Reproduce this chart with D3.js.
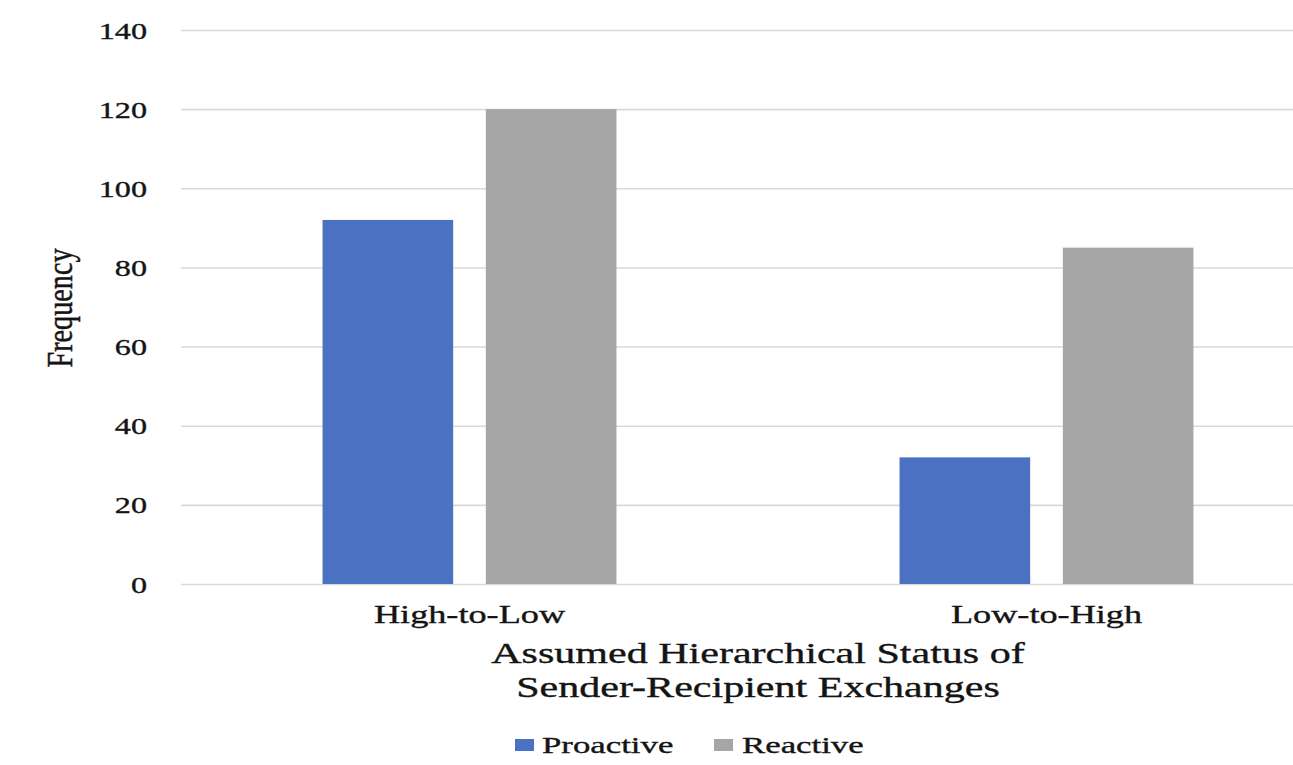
<!DOCTYPE html>
<html>
<head>
<meta charset="utf-8">
<script src="https://cdn.jsdelivr.net/npm/d3@7"></script>
<style>
  html, body { margin: 0; padding: 0; background: #ffffff; }
  svg { display: block; }
  text { font-family: "Liberation Serif", "Times New Roman", serif; fill: #141414; stroke: #141414; stroke-width: 0.35px; }
</style>
</head>
<body>
<svg id="chart" width="1293" height="765"></svg>
<script>
// ---- data ----
const categories = ["High-to-Low", "Low-to-High"];
const seriesNames = ["Proactive", "Reactive"];
const proactive = [92, 32];
const reactive = [120, 85];
const yTicks = [0, 20, 40, 60, 80, 100, 120, 140];
const yLabel = "Frequency";
const xTitleLines = ["Assumed Hierarchical Status of", "Sender-Recipient Exchanges"];

// ---- layout / style ----
const W = 1293, H = 765;
const SX = 1.45;               // horizontal stretch of the original picture
const colors = { Proactive: "#4A71C2", Reactive: "#A6A6A6" };
const plot = { left: 181, right: 1335, top: 30, bottom: 584 };

const svg = d3.select("#chart");

const x0 = d3.scaleBand().domain(categories).range([plot.left, plot.right]).paddingInner(0).paddingOuter(0);
const x1 = d3.scaleBand().domain(seriesNames).range([0, x0.bandwidth()]).paddingInner(0.2).paddingOuter(0.867);
const y = d3.scaleLinear().domain([0, 140]).range([plot.bottom, plot.top]);

// gridlines + tick labels
const yAxis = d3.axisLeft(y).tickValues(yTicks).tickSize(-(W - plot.left)).tickPadding(0);
const gy = svg.append("g").attr("transform", `translate(${plot.left},0)`).call(yAxis);
gy.select(".domain").remove();
gy.selectAll(".tick line").attr("stroke", "#d9d9d9").attr("stroke-width", 1.6);
gy.selectAll(".tick text")
  .attr("x", null).attr("dy", null)
  .attr("transform", `translate(-34,8) scale(1.4,1)`)
  .attr("text-anchor", "end")
  .style("font-size", "23px")
  .style("font-family", '"Liberation Serif", serif')
  .attr("fill", "#141414");

// bars
const data = categories.map((c, i) => ({ cat: c, values: [
  { key: "Proactive", value: proactive[i] },
  { key: "Reactive", value: reactive[i] }
]}));

const groups = svg.append("g").selectAll("g").data(data).join("g")
  .attr("transform", d => `translate(${x0(d.cat)},0)`);
groups.selectAll("rect").data(d => d.values).join("rect")
  .attr("x", d => x1(d.key))
  .attr("width", x1.bandwidth())
  .attr("y", d => y(d.value))
  .attr("height", d => y(0) - y(d.value))
  .attr("fill", d => colors[d.key]);

// helper for stretched text
function stext(x, yy, str, size, anchor) {
  return svg.append("text")
    .attr("transform", `translate(${x},${yy}) scale(${SX},1)`)
    .attr("text-anchor", anchor || "middle")
    .style("font-size", size + "px")
    .text(str);
}

// category labels
categories.forEach(c => {
  stext(x0(c) + x0.bandwidth() / 2, 623, c, 25);
});

// x title
const cx = (plot.left + plot.right) / 2;
stext(cx, 663, xTitleLines[0], 29);
stext(cx, 697, xTitleLines[1], 29);

// y label
svg.append("text")
  .attr("transform", `translate(72,308) scale(${SX},1) rotate(-90)`)
  .attr("text-anchor", "middle")
  .attr("textLength", 119)
  .attr("lengthAdjust", "spacingAndGlyphs")
  .style("font-size", "24px")
  .text(yLabel);

// legend
const legendItems = [
  { key: "Proactive", sx: 515, tx: 542 },
  { key: "Reactive", sx: 714, tx: 742 }
];
legendItems.forEach(it => {
  svg.append("rect").attr("x", it.sx).attr("y", 739).attr("width", 19).attr("height", 12)
    .attr("fill", colors[it.key]);
  stext(it.tx, 753, it.key, 24, "start");
});
</script>
</body>
</html>
